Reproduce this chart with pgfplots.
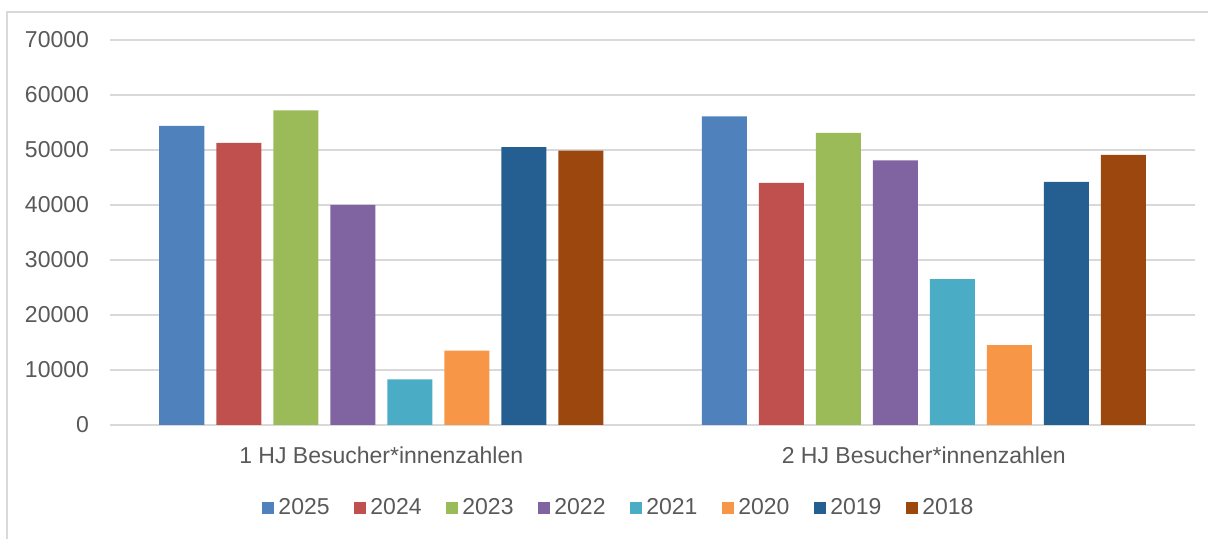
\documentclass[border=0pt]{standalone}
\usepackage{fontspec}
\setmainfont{Liberation Sans}
\usepackage{pgfplots}
\pgfplotsset{compat=1.18}

\definecolor{c25}{HTML}{4F81BD}
\definecolor{c24}{HTML}{C0504D}
\definecolor{c23}{HTML}{9BBB59}
\definecolor{c22}{HTML}{8064A2}
\definecolor{c21}{HTML}{4BACC6}
\definecolor{c20}{HTML}{F79646}
\definecolor{c19}{HTML}{255E91}
\definecolor{c18}{HTML}{9C470D}
\definecolor{txt}{HTML}{595959}
\definecolor{gridc}{HTML}{D9D9D9}

\begin{document}
\begin{tikzpicture}
\useasboundingbox (0,0) rectangle (604pt,269.5pt);
\draw[gridc, line width=0.75pt] (3.5pt,-2pt) -- (3.5pt,263.5pt) -- (606pt,263.5pt);
\begin{axis}[
  at={(55pt,57pt)}, anchor=south west,
  scale only axis, width=542.5pt, height=192.5pt,
  ybar=6pt, bar width=22.5pt,
  xmin=-0.5, xmax=1.5, ymin=0, ymax=70000,
  xtick={0,1},
  xticklabels={1 HJ Besucher*innenzahlen, 2 HJ Besucher*innenzahlen},
  ytick={0,10000,20000,30000,40000,50000,60000,70000},
  scaled y ticks=false,
  /pgf/number format/1000 sep={},
  /pgf/number format/assume math mode=true,
  ymajorgrids, grid style={gridc, line width=0.75pt},
  axis line style={draw=none}, tick style={draw=none}, major tick length=0pt,
  tick label style={font=\fontsize{11.5}{13}\selectfont, text=txt},
  yticklabel style={anchor=east, xshift=-7pt},
  xticklabel style={anchor=center, yshift=-15pt},
  legend columns=8,
  legend style={at={(0.470,-0.2156)}, anchor=center, draw=none, fill=none,
    font=\fontsize{11.5}{13}\selectfont, text=txt, inner sep=0pt,
    nodes={inner xsep=2.2pt},
    /tikz/every even column/.append style={column sep=10pt}},
  legend image code/.code={\fill[#1] (0pt,-3pt) rectangle (6pt,3pt);},
  every axis plot/.append style={draw=none},
]
\addplot[fill=c25] coordinates {(0,54400) (1,56100)};
\addlegendentry{2025}
\addplot[fill=c24] coordinates {(0,51300) (1,44000)};
\addlegendentry{2024}
\addplot[fill=c23] coordinates {(0,57200) (1,53100)};
\addlegendentry{2023}
\addplot[fill=c22] coordinates {(0,40000) (1,48100)};
\addlegendentry{2022}
\addplot[fill=c21] coordinates {(0,8300) (1,26500)};
\addlegendentry{2021}
\addplot[fill=c20] coordinates {(0,13500) (1,14500)};
\addlegendentry{2020}
\addplot[fill=c19] coordinates {(0,50500) (1,44200)};
\addlegendentry{2019}
\addplot[fill=c18] coordinates {(0,49900) (1,49100)};
\addlegendentry{2018}
\end{axis}
\end{tikzpicture}
\end{document}
